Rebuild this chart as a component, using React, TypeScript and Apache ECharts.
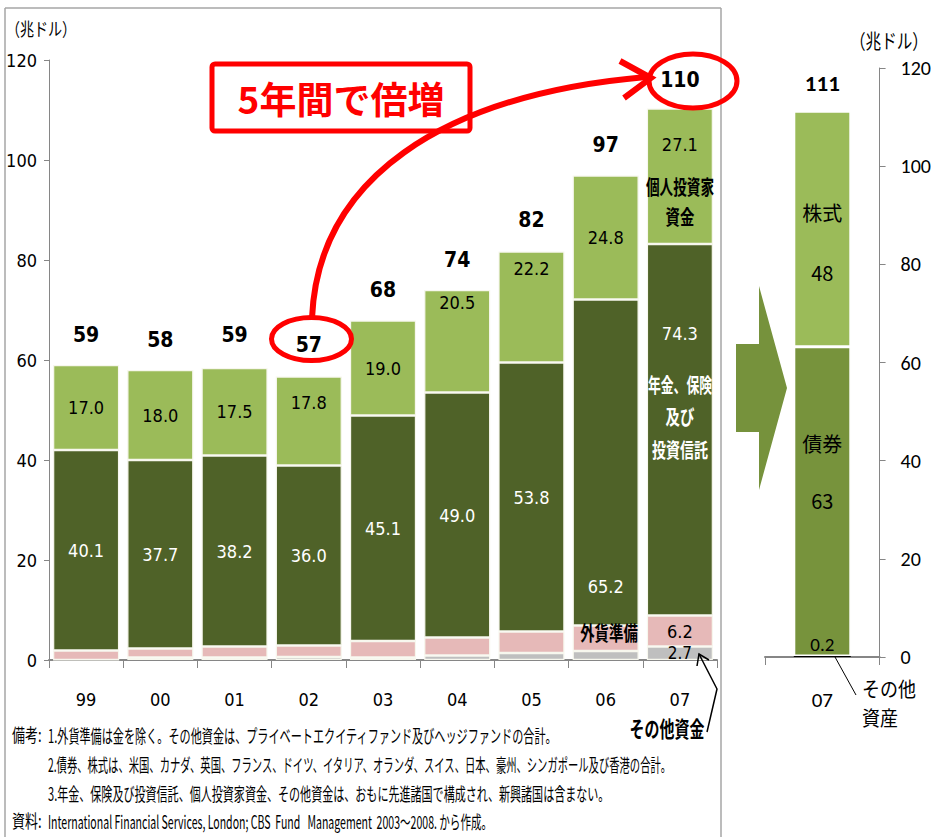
import React, { useEffect, useRef } from "react";
import * as echarts from "echarts";

// ---- data (left panel: world financial assets by holder, 兆ドル) ----
const years = ["99", "00", "01", "02", "03", "04", "05", "06", "07"];
const otherFunds = [0, 0.5, 0.5, 0.6, 0.5, 0.9, 1.4, 1.8, 2.7]; // その他資金
const reserves = [1.9, 1.8, 2.2, 2.3, 3.3, 3.6, 4.3, 5.1, 6.2]; // 外貨準備
const pensions = [40.1, 37.7, 38.2, 36.0, 45.1, 49.0, 53.8, 65.2, 74.3]; // 年金、保険及び投資信託
const individual = [17.0, 18.0, 17.5, 17.8, 19.0, 20.5, 22.2, 24.8, 27.1]; // 個人投資家資金
const totals = [59, 58, 59, 57, 68, 74, 82, 97, 110];

// ---- data (right panel: 2007 by asset) ----
const rightCategory = ["07"];
const rightOther = [0.2]; // その他資産
const rightBonds = [63]; // 債券
const rightStocks = [48]; // 株式
const rightTotal = [111];

// label placement tweaks (style, not data)
const individualLabelDy = [0, 0, 0, -19, 0, -39, -39, 0, -32];
const pensionLabelDy = [0, 0, 0, 0, 0, 0, 0, 124, -96];

const notes = [
  "1.外貨準備は金を除く。その他資金は、プライベートエクイティファンド及びヘッジファンドの合計。",
  "2.債券、株式は、米国、カナダ、英国、フランス、ドイツ、イタリア、オランダ、スイス、日本、豪州、シンガポール及び香港の合計。",
  "3.年金、保険及び投資信託、個人投資家資金、その他資金は、おもに先進諸国で構成され、新興諸国は含まない。",
];
const source = "International Financial Services, London; CBS  Fund   Management  2003～2008. から作成。";

const NARROW = "'Liberation Sans Narrow','DejaVu Sans Condensed','Liberation Sans',sans-serif";
const REG = "'Carlito','Liberation Sans',sans-serif";
const JP = "'Noto Sans CJK JP','Noto Sans',sans-serif";

function fitScale(text: string, size: number, family: string, weight: string, target: number) {
  try {
    const c = document.createElement("canvas").getContext("2d");
    if (!c) return 0.72;
    c.font = `${weight} ${size}px ${family}`;
    const w = c.measureText(text).width;
    return w > 0 ? target / w : 0.72;
  } catch (e) {
    return 0.72;
  }
}

export default function App() {
  const ref = useRef<HTMLDivElement>(null);

  useEffect(() => {
    document.body.style.margin = "0";
    if (!ref.current) return;
    const chart = echarts.init(ref.current, undefined, { renderer: "svg" });

    const noteY = [735, 764, 793];
    const noteEnd = [558, 672, 610];
    const noteSize = 18;

    const jpText = (text: string, x: number, y: number, size: number, opts: any = {}) => ({
      type: "text",
      x,
      y,
      scaleX: opts.scaleX ?? 1,
      z: 100,
      style: {
        text,
        fontSize: size,
        fontFamily: opts.family ?? JP,
        fontWeight: opts.weight ?? "normal",
        fill: opts.fill ?? "#000",
        textAlign: opts.align ?? "center",
        verticalAlign: "middle",
      },
    });

    const graphic: any[] = [
      // left panel frame
      { type: "line", shape: { x1: 5, y1: 8, x2: 721, y2: 8 }, style: { stroke: "#A6A6A6", lineWidth: 1.5 } },
      { type: "line", shape: { x1: 5, y1: 8, x2: 5, y2: 837 }, style: { stroke: "#A6A6A6", lineWidth: 1.5 } },
      { type: "line", shape: { x1: 721, y1: 8, x2: 721, y2: 837 }, style: { stroke: "#A6A6A6", lineWidth: 1.5 } },
      // unit labels
      jpText("（兆ドル）", 6, 28, 18, { align: "left", scaleX: 0.78 }),
      jpText("（兆ドル）", 850, 40, 20, { align: "left", scaleX: 0.78 }),
      // green arrow
      {
        type: "polygon",
        shape: { points: [[736, 344], [759, 344], [759, 286], [787, 388], [759, 490], [759, 432], [736, 432]] },
        style: { fill: "#76923C" },
      },
      // red annotation box
      { type: "rect", shape: { x: 212, y: 64, width: 258, height: 67, r: 3 }, style: { fill: "#fff", stroke: "#FF0000", lineWidth: 5 }, z: 90 },
      jpText("5年間で倍増", 341, 98, 37, { weight: "bold", fill: "#FF0000" }),
      // red curve & arrowhead
      {
        type: "bezierCurve",
        shape: { x1: 312, y1: 318, cpx1: 318, cpy1: 180, cpx2: 440, cpy2: 95, x2: 646, y2: 77 },
        style: { stroke: "#FF0000", lineWidth: 6, fill: null },
        z: 95,
      },
      {
        type: "polyline",
        shape: { points: [[620, 61], [651, 78], [624, 98]] },
        style: { stroke: "#FF0000", lineWidth: 6, fill: null },
        z: 95,
      },
      // red ellipses
      { type: "ellipse", shape: { cx: 311.5, cy: 339, rx: 40, ry: 21.5 }, style: { stroke: "#FF0000", lineWidth: 5, fill: null }, z: 95 },
      { type: "ellipse", shape: { cx: 693, cy: 81, rx: 44, ry: 27 }, style: { stroke: "#FF0000", lineWidth: 5, fill: null }, z: 95 },
      // in-bar annotations
      jpText("外貨準備", 609, 632, 20, { weight: "bold", scaleX: 0.72 }),
      jpText("個人投資家", 680, 186, 20, { weight: "bold", scaleX: 0.68 }),
      jpText("資金", 680, 216, 20, { weight: "bold", scaleX: 0.72 }),
      jpText("年金、保険", 680, 385, 20, { weight: "bold", scaleX: 0.64, fill: "#fff" }),
      jpText("及び", 680, 416, 20, { weight: "bold", scaleX: 0.72, fill: "#fff" }),
      jpText("投資信託", 680, 449, 20, { weight: "bold", scaleX: 0.7, fill: "#fff" }),
      jpText("その他資金", 667, 727, 22, { weight: "bold", scaleX: 0.68 }),
      {
        type: "polyline",
        shape: { points: [[707, 732], [717, 689], [699, 654]] },
        style: { stroke: "#000", lineWidth: 1.5, fill: null },
        z: 95,
      },
      {
        type: "polyline",
        shape: { points: [[697, 666], [699, 654], [709, 660]] },
        style: { stroke: "#000", lineWidth: 1.5, fill: null },
        z: 95,
      },
      // right panel: その他資産 callout
      { type: "line", shape: { x1: 835, y1: 657, x2: 856, y2: 695 }, style: { stroke: "#000", lineWidth: 1 }, z: 95 },
      jpText("その他", 862, 688, 20, { align: "left", scaleX: 0.9 }),
      jpText("資産", 862, 717, 20, { align: "left", scaleX: 0.9 }),
      // notes
      jpText("備考:", 12, noteY[0], noteSize, { align: "left", scaleX: 0.72 }),
      jpText("資料:", 12, 821, noteSize, { align: "left", scaleX: 0.72 }),
    ];
    notes.forEach((t, i) => {
      graphic.push(
        jpText(t, 48, noteY[i], noteSize, {
          align: "left",
          scaleX: fitScale(t, noteSize, "'Noto Sans CJK JP'", "normal", noteEnd[i] - 48),
        })
      );
    });
    graphic.push(
      jpText(source, 48, 821, noteSize, {
        align: "left",
        scaleX: fitScale(source, noteSize, "'Noto Sans CJK JP'", "normal", 492 - 48),
      })
    );

    const lastOnly = (n: number) => (p: any) => (p.dataIndex === n ? Number(p.value).toFixed(1) : "");
    const segBorder = { borderColor: "#F7F7EE", borderWidth: 1.2 };

    const option: any = {
      animation: false,
      backgroundColor: "#fff",
      grid: [
        { left: 49, right: 217, top: 60, bottom: 177 },
        { left: 765, right: 54, top: 68, bottom: 180 },
      ],
      xAxis: [
        {
          type: "category",
          gridIndex: 0,
          data: years,
          axisLine: { lineStyle: { color: "#868686", width: 2 } },
          axisTick: { show: true, length: 8, lineStyle: { color: "#868686" } },
          axisLabel: { margin: 30, fontSize: 18, color: "#000", fontFamily: NARROW },
        },
        {
          type: "category",
          gridIndex: 1,
          data: rightCategory,
          axisLine: { lineStyle: { color: "#868686", width: 2 } },
          axisTick: { show: true, length: 8, lineStyle: { color: "#868686" } },
          axisLabel: { margin: 32, fontSize: 21, color: "#000", fontFamily: REG },
        },
      ],
      yAxis: [
        {
          type: "value",
          gridIndex: 0,
          min: 0,
          max: 120,
          interval: 20,
          axisLine: { show: true, lineStyle: { color: "#868686", width: 1 } },
          axisTick: { show: true, length: 5, lineStyle: { color: "#868686" } },
          splitLine: { show: false },
          axisLabel: { margin: 12, fontSize: 18, color: "#000", fontFamily: NARROW },
        },
        {
          type: "value",
          gridIndex: 1,
          position: "right",
          min: 0,
          max: 120,
          interval: 20,
          axisLine: { show: true, lineStyle: { color: "#868686", width: 1 } },
          axisTick: { show: true, length: 6, lineStyle: { color: "#868686" } },
          splitLine: { show: false },
          axisLabel: { margin: 21, fontSize: 20, color: "#000", fontFamily: REG },
        },
      ],
      series: [
        {
          name: "その他資金",
          type: "bar",
          stack: "L",
          barCategoryGap: "11%",
          data: otherFunds,
          itemStyle: { color: "#BFBFBF", ...segBorder },
          label: { show: true, position: "inside", formatter: lastOnly(8), fontSize: 17, color: "#000", fontFamily: NARROW },
        },
        {
          name: "外貨準備",
          type: "bar",
          stack: "L",
          data: reserves,
          itemStyle: { color: "#E6B9B8", ...segBorder },
          label: { show: true, position: "inside", formatter: lastOnly(8), fontSize: 18, color: "#000", fontFamily: NARROW },
        },
        {
          name: "年金、保険及び投資信託",
          type: "bar",
          stack: "L",
          data: pensions.map((v, i) => ({ value: v, label: { offset: [0, pensionLabelDy[i]] } })),
          itemStyle: { color: "#4F6228", ...segBorder },
          label: {
            show: true,
            position: "inside",
            formatter: (p: any) => Number(p.value).toFixed(1),
            fontSize: 18,
            color: "#fff",
            fontFamily: NARROW,
          },
        },
        {
          name: "個人投資家資金",
          type: "bar",
          stack: "L",
          data: individual.map((v, i) => ({ value: v, label: { offset: [0, individualLabelDy[i]] } })),
          itemStyle: { color: "#9BBB59", ...segBorder },
          label: {
            show: true,
            position: "inside",
            formatter: (p: any) => Number(p.value).toFixed(1),
            fontSize: 18,
            color: "#000",
            fontFamily: NARROW,
          },
        },
        {
          name: "合計",
          type: "line",
          data: totals,
          symbol: "circle",
          symbolSize: 1,
          showSymbol: true,
          silent: true,
          z: 10,
          itemStyle: { color: "rgba(0,0,0,0)" },
          lineStyle: { opacity: 0, width: 0 },
          label: { show: true, position: "top", distance: 19, fontSize: 21, fontWeight: "bold", color: "#000", fontFamily: NARROW },
        },
        // right panel
        {
          name: "その他資産",
          type: "bar",
          stack: "R",
          xAxisIndex: 1,
          yAxisIndex: 1,
          barWidth: 57,
          data: rightOther,
          itemStyle: { color: "#000" },
          label: { show: true, position: "top", distance: 2, fontSize: 19, color: "#000", fontFamily: REG },
        },
        {
          name: "債券",
          type: "bar",
          stack: "R",
          xAxisIndex: 1,
          yAxisIndex: 1,
          data: rightBonds,
          itemStyle: { color: "#77933C", borderColor: "#fff", borderWidth: 1.5 },
          label: {
            show: true,
            position: "inside",
            formatter: (p: any) => `${p.seriesName}\n${p.value}`,
            lineHeight: 57,
            offset: [0, -29],
            fontSize: 20,
            color: "#000",
            fontFamily: JP,
          },
        },
        {
          name: "株式",
          type: "bar",
          stack: "R",
          xAxisIndex: 1,
          yAxisIndex: 1,
          data: rightStocks,
          itemStyle: { color: "#9BBB59", borderColor: "#fff", borderWidth: 1.5 },
          label: {
            show: true,
            position: "inside",
            formatter: (p: any) => `${p.seriesName}\n${p.value}`,
            lineHeight: 60,
            offset: [0, 14],
            fontSize: 20,
            color: "#000",
            fontFamily: JP,
          },
        },
        {
          name: "合計R",
          type: "line",
          xAxisIndex: 1,
          yAxisIndex: 1,
          data: rightTotal,
          symbol: "circle",
          symbolSize: 1,
          showSymbol: true,
          silent: true,
          z: 10,
          itemStyle: { color: "rgba(0,0,0,0)" },
          lineStyle: { opacity: 0, width: 0 },
          label: { show: true, position: "top", distance: 17, fontSize: 23, fontWeight: "bold", color: "#000", fontFamily: REG },
        },
      ],
      graphic,
    };

    chart.setOption(option);
    return () => chart.dispose();
  }, []);

  return <div ref={ref} style={{ position: "absolute", left: 0, top: 0, width: 934, height: 837 }} />;
}
